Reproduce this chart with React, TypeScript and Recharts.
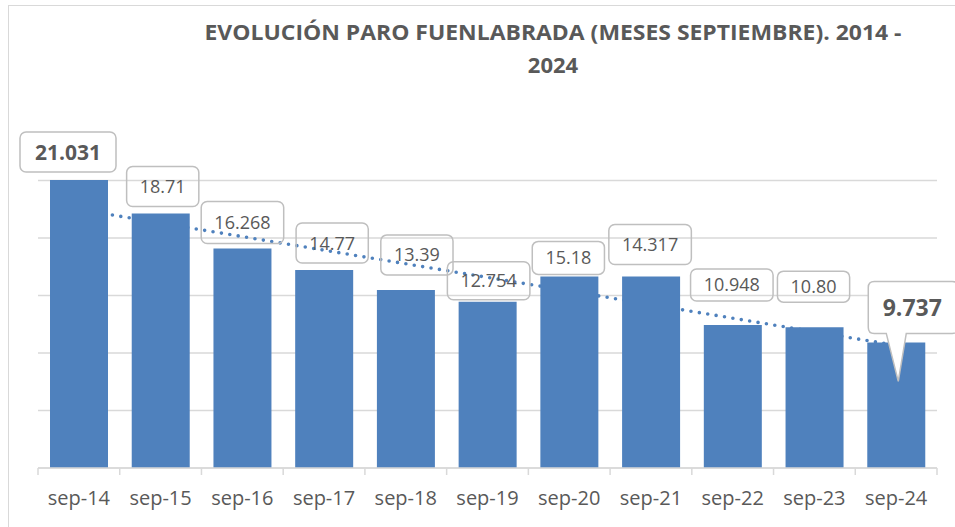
import { ComposedChart, Bar, Line, XAxis, YAxis, CartesianGrid, LabelList } from 'recharts';

const meses = ['sep-14', 'sep-15', 'sep-16', 'sep-17', 'sep-18', 'sep-19', 'sep-20', 'sep-21', 'sep-22', 'sep-23', 'sep-24'];
// alturas de barra
const parados = [21031, 18710, 16268, 14770, 13390, 12560, 14330, 14317, 10948, 10800, 9737];
// textos de las etiquetas tal como aparecen
const etiquetas = ['21.031', '18.71', '16.268', '14.77', '13.39', '12.754', '15.18', '14.317', '10.948', '10.80', '9.737'];
const ticksY = [1000, 5000, 9000, 13000, 17000, 21000];

// colocación de cada etiqueta: [desplazamiento x, hueco sobre la barra, alto de la caja]
const posEtiqueta = [
    [-11, 8, 40], [2, 7, 40], [0, 5, 42], [8, 7, 40], [11, 15, 40], [1, 2, 38],
    [-1, 2, 33], [-1, 12, 40], [-1, 24, 32], [-1, 25, 31], [0, 0, 0],
];

// línea de tendencia lineal (mínimos cuadrados), como la de Excel
const n = parados.length;
const mediaX = (n - 1) / 2;
const mediaY = parados.reduce((a, b) => a + b, 0) / n;
let sxy = 0;
let sxx = 0;
parados.forEach((v, i) => {
    sxy += (i - mediaX) * (v - mediaY);
    sxx += (i - mediaX) * (i - mediaX);
});
const pendiente = sxy / sxx;

const data = meses.map((mes, i) => ({
    mes,
    parados: parados[i],
    etiqueta: etiquetas[i],
    tendencia: mediaY + pendiente * (i - mediaX),
}));

const W = 955;
const H = 527;
const margen = { top: 123, right: 18, bottom: 29, left: 38 };
const EJE_Y = H - margen.bottom - 30;
const PASO = (W - margen.left - margen.right) / n;
const GRIS = '#595959';
const AZUL = '#4f81bd';
const FUENTE = "'Open Sans', sans-serif";

const Tick = (props: any) => {
    const { x, payload, index } = props;
    const x0 = x - PASO / 2;
    return (
        <g>
            <line x1={x0} y1={EJE_Y} x2={x0} y2={EJE_Y + 7} stroke="#d9d9d9" strokeWidth={1.5} />
            {index === n - 1 && (
                <line x1={x + PASO / 2} y1={EJE_Y} x2={x + PASO / 2} y2={EJE_Y + 7} stroke="#d9d9d9" strokeWidth={1.5} />
            )}
            <text x={x} y={505} textAnchor="middle" fontFamily={FUENTE} fontSize={20} fill={GRIS}>
                {payload.value}
            </text>
        </g>
    );
};

const Etiqueta = (props: any) => {
    const { x, y, width, index, value } = props;
    const cx = x + width / 2;
    const texto = String(value);

    if (index === n - 1) {
        // bocadillo con flecha hacia la barra
        const L = cx - 28, R = cx + 62, T = y - 61, B = y - 9, r = 6;
        const p1 = cx - 10, p2 = cx + 10, tx = cx + 2, ty = y + 39;
        const d = `M${L + r},${T} H${R - r} Q${R},${T} ${R},${T + r} V${B - r} Q${R},${B} ${R - r},${B} H${p2} L${tx},${ty} L${p1},${B} H${L + r} Q${L},${B} ${L},${B - r} V${T + r} Q${L},${T} ${L + r},${T} Z`;
        return (
            <g>
                <path d={d} fill="#fff" stroke="#bfbfbf" strokeWidth={1.5} />
                <text x={cx + 16} y={(T + B) / 2} dy="0.36em" textAnchor="middle" fontFamily={FUENTE} fontWeight="bold" fontSize={23} fill={GRIS}>
                    {texto}
                </text>
            </g>
        );
    }

    const [dx, hueco, alto] = posEtiqueta[index];
    const negrita = index === 0;
    const digitos = texto.replace('.', '').length;
    const ancho = negrita ? 96 : digitos * 10.3 + 5 + 26;
    const bx = cx + dx;
    const abajo = y - hueco;
    return (
        <g>
            <rect x={bx - ancho / 2} y={abajo - alto} width={ancho} height={alto} rx={6} fill="none" stroke="#bfbfbf" strokeWidth={1.5} />
            <text x={bx} y={abajo - alto / 2} dy="0.36em" textAnchor="middle" fontFamily={FUENTE}
                fontWeight={negrita ? 'bold' : 'normal'} fontSize={negrita ? 21 : 18} fill={GRIS}>
                {texto}
            </text>
        </g>
    );
};

const App = () => (
    <div style={{ position: 'fixed', left: 0, top: 0, width: W, height: H, overflow: 'hidden', background: '#fff' }}>
        <div style={{ position: 'absolute', left: 8, top: 5, width: W, height: H, borderTop: '1.5px solid #d9d9d9', borderLeft: '1.5px solid #d9d9d9' }} />
        <svg style={{ position: 'absolute', left: 0, top: 0 }} width={W} height={100}>
            <text x={553} y={40} textAnchor="middle" fontFamily={FUENTE} fontWeight="bold" fontSize={22} fill={GRIS}
                textLength={697} lengthAdjust="spacingAndGlyphs">
                EVOLUCIÓN PARO FUENLABRADA (MESES SEPTIEMBRE). 2014 -
            </text>
            <text x={553} y={73} textAnchor="middle" fontFamily={FUENTE} fontWeight="bold" fontSize={22} fill={GRIS}>
                2024
            </text>
        </svg>
        <div style={{ position: 'absolute', left: 0, top: 0 }}>
            <ComposedChart width={W} height={H} data={data} margin={margen} barSize={58}>
                <CartesianGrid horizontal vertical={false} horizontalValues={ticksY} stroke="#d9d9d9" strokeWidth={1.5} />
                <XAxis dataKey="mes" height={30} interval={0} axisLine={{ stroke: '#d9d9d9', strokeWidth: 1.5 }}
                    tickLine={false} tick={<Tick />} />
                <YAxis hide domain={[1000, 25000]} ticks={ticksY} />
                <Line dataKey="tendencia" type="linear" stroke={AZUL} strokeWidth={3.6} strokeDasharray="0 8.5"
                    strokeLinecap="round" dot={false} activeDot={false} isAnimationActive={false} zIndex={100} />
                <Bar dataKey="parados" fill={AZUL} isAnimationActive={false} zIndex={300}>
                    <LabelList dataKey="etiqueta" content={<Etiqueta />} />
                </Bar>
            </ComposedChart>
        </div>
    </div>
);

export default App;
